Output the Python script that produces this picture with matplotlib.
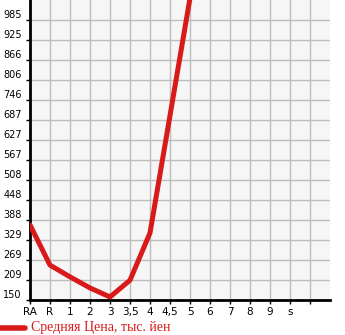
import matplotlib
matplotlib.use("Agg")
import matplotlib.pyplot as plt
import numpy as np

# grade labels along the x axis (last slot has no label)
grades = ["RA", "R", "1", "2", "3", "3,5", "4", "4,5", "5", "6", "7", "8", "9", "s", ""]
# average price, thousand yen (only RA..5 have values)
prices = [374, 254, 219, 186, 159, 209, 350, 700, 1050]
y_ticks = [150, 209, 269, 329, 388, 448, 508, 567, 627, 687, 746, 806, 866, 925, 985]

red = "#d91a1a"

fig = plt.figure(figsize=(3.45, 3.35), dpi=100)
ax = fig.add_axes([30 / 345, 35 / 335, 300 / 345, 300 / 335])
ax.set_facecolor("#f6f6f6")

x = np.arange(len(prices))
ax.plot(x, prices, color=red, lw=3.6, solid_joinstyle="round",
        solid_capstyle="round", zorder=3, clip_on=True)

ax.set_xlim(0, 15)
ax.set_ylim(150, 150 + 15 * 59.64)
ax.set_xticks(np.arange(len(grades)))
ax.set_xticklabels(grades, fontsize=7.5, family="DejaVu Sans")
ax.set_yticks(y_ticks)
ax.set_yticklabels([str(v) for v in y_ticks], fontsize=7, family="DejaVu Sans")
for lbl in ax.get_yticklabels():
    lbl.set_va("bottom")

ax.grid(True, color="#bdbdbd", lw=1)
ax.set_axisbelow(True)
for s in ["top", "right"]:
    ax.spines[s].set_visible(False)
for s in ["left", "bottom"]:
    ax.spines[s].set_linewidth(2)
    ax.spines[s].set_color("black")
ax.tick_params(axis="y", length=3, width=1, pad=3)
ax.tick_params(axis="x", length=3, width=1, pad=2)

# legend drawn below the plot
fig.lines.append(plt.Line2D([0.0, 25 / 345], [7 / 335, 7 / 335], transform=fig.transFigure,
                            color=red, lw=4, solid_capstyle="round"))
fig.text(31 / 345, 7 / 335, "Средняя Цена, тыс. йен", color=red, fontsize=10,
         family="Liberation Serif", va="center", ha="left")

fig.savefig("out.png", dpi=100)
